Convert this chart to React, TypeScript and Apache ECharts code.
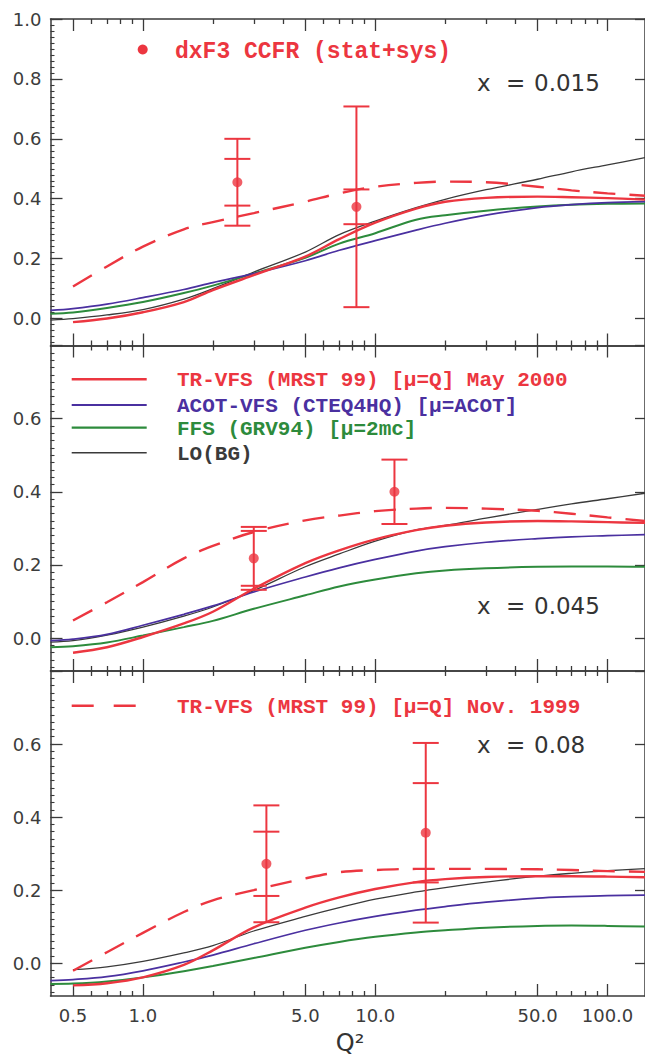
import React, { useEffect, useRef } from "react";
import * as echarts from "echarts";

// ---------------- data ----------------
const Q2 = [0.4, 0.5, 0.7, 1, 1.5, 2, 3, 5, 7, 10, 15, 20, 30, 50, 70, 100, 145];

// x = 0.015
const P1_TR2000 = [null, -0.012, 0.0, 0.021, 0.055, 0.095, 0.145, 0.207, 0.265, 0.32, 0.367, 0.39, 0.403, 0.407, 0.405, 0.402, 0.397];
const P1_ACOT = [0.027, 0.033, 0.048, 0.07, 0.097, 0.12, 0.15, 0.193, 0.228, 0.26, 0.295, 0.318, 0.345, 0.37, 0.38, 0.387, 0.39];
const P1_FFS = [0.016, 0.02, 0.035, 0.055, 0.085, 0.11, 0.15, 0.203, 0.25, 0.285, 0.33, 0.345, 0.36, 0.374, 0.38, 0.383, 0.384];
const P1_LO = [-0.005, 0.0, 0.012, 0.03, 0.065, 0.1, 0.155, 0.222, 0.28, 0.325, 0.37, 0.398, 0.43, 0.465, 0.49, 0.513, 0.537];
const P1_TR1999 = [null, 0.107, 0.174, 0.24, 0.298, 0.322, 0.352, 0.39, 0.418, 0.44, 0.453, 0.457, 0.455, 0.44, 0.428, 0.418, 0.41];

// x = 0.045
const P2_TR2000 = [null, -0.04, -0.025, 0.003, 0.04, 0.072, 0.135, 0.205, 0.24, 0.27, 0.295, 0.307, 0.316, 0.32, 0.319, 0.317, 0.315];
const P2_ACOT = [-0.007, -0.003, 0.01, 0.035, 0.065, 0.088, 0.126, 0.167, 0.192, 0.215, 0.238, 0.25, 0.262, 0.272, 0.277, 0.28, 0.283];
const P2_FFS = [-0.025, -0.022, -0.012, 0.007, 0.03, 0.047, 0.08, 0.117, 0.141, 0.16, 0.177, 0.185, 0.191, 0.195, 0.196, 0.196, 0.195];
const P2_LO = [-0.011, -0.007, 0.008, 0.03, 0.06, 0.085, 0.13, 0.195, 0.23, 0.265, 0.296, 0.308, 0.328, 0.352, 0.367, 0.381, 0.396];
const P2_TR1999 = [null, 0.048, 0.098, 0.153, 0.218, 0.252, 0.29, 0.322, 0.335, 0.347, 0.354, 0.356, 0.354, 0.348, 0.34, 0.33, 0.32];

// x = 0.08
const P3_TR2000 = [null, -0.061, -0.055, -0.039, -0.005, 0.035, 0.098, 0.152, 0.18, 0.203, 0.222, 0.23, 0.236, 0.238, 0.238, 0.237, 0.235];
const P3_ACOT = [-0.048, -0.045, -0.037, -0.021, 0.003, 0.022, 0.053, 0.09, 0.11, 0.128, 0.145, 0.155, 0.167, 0.178, 0.182, 0.185, 0.186];
const P3_FFS = [-0.057, -0.056, -0.05, -0.039, -0.022, -0.008, 0.014, 0.042, 0.058, 0.072, 0.084, 0.09, 0.097, 0.102, 0.103, 0.102, 0.1];
const P3_LO = [null, -0.018, -0.01, 0.005, 0.028, 0.048, 0.088, 0.128, 0.152, 0.175, 0.195, 0.207, 0.222, 0.238, 0.246, 0.253, 0.259];
const P3_TR1999 = [null, -0.021, 0.03, 0.083, 0.14, 0.172, 0.2, 0.232, 0.249, 0.255, 0.258, 0.258, 0.258, 0.257, 0.255, 0.252, 0.25];

// CCFR data points: Q2, value, stat error, total (stat+sys) error
const P1_PT_Q = [2.55, 8.3];
const P1_PT_V = [0.455, 0.373];
const P1_PT_STAT = [0.078, 0.058];
const P1_PT_TOT = [0.145, 0.335];

const P2_PT_Q = [3.0, 12.1];
const P2_PT_V = [0.218, 0.4];
const P2_PT_STAT = [0.075, 0];
const P2_PT_TOT = [0.086, 0.088];

const P3_PT_Q = [3.4, 16.5];
const P3_PT_V = [0.272, 0.357];
const P3_PT_STAT = [0.088, 0.136];
const P3_PT_TOT = [0.16, 0.246];

const X_VALUES = ["0.015", "0.045", "0.08"];

const MAJOR_Q = [0.5, 1, 5, 10, 50, 100];
const MINOR_Q = [0.6, 0.7, 0.8, 0.9, 2, 3, 4, 6, 7, 8, 9, 20, 30, 40, 60, 70, 80, 90];

const Y_MIN = [-0.09, -0.09, -0.09];
const Y_MAX = [1.0, 0.8, 0.8];
const Y_MAJOR = [
  [0, 0.2, 0.4, 0.6, 0.8, 1.0],
  [0, 0.2, 0.4, 0.6, 0.8],
  [0, 0.2, 0.4, 0.6, 0.8],
];
const Y_LABELS = [
  [0, 0.2, 0.4, 0.6, 0.8, 1.0],
  [0, 0.2, 0.4, 0.6],
  [0, 0.2, 0.4, 0.6],
];

const LEGEND_LABELS = [
  "TR-VFS (MRST 99) [μ=Q] May 2000",
  "ACOT-VFS (CTEQ4HQ) [μ=ACOT]",
  "FFS (GRV94) [μ=2mc]",
  "LO(BG)",
];
const LEGEND_1999 = "TR-VFS (MRST 99) [μ=Q] Nov. 1999";
const DATA_LABEL = "dxF3 CCFR (stat+sys)";

// ---------------- style ----------------
const RED = "#ec3640";
const BLUE = "#4a30a0";
const GREEN = "#2d8b3c";
const BLACK = "#3a3a3a";
const AXIS = "#3a3a3a";
const LABEL = "#3c3c3c";

const X_MIN = 0.4;
const X_MAX = 145;
const GRID_LEFT = 50.5;
const GRID_WIDTH = 597.5;
const PANEL_TOPS = [19, 345.5, 671];
const PANEL_HEIGHTS = [326.5, 325.5, 325];

const PANELS = [
  { tr2000: P1_TR2000, acot: P1_ACOT, ffs: P1_FFS, lo: P1_LO, tr1999: P1_TR1999, q: P1_PT_Q, v: P1_PT_V, st: P1_PT_STAT, tot: P1_PT_TOT },
  { tr2000: P2_TR2000, acot: P2_ACOT, ffs: P2_FFS, lo: P2_LO, tr1999: P2_TR1999, q: P2_PT_Q, v: P2_PT_V, st: P2_PT_STAT, tot: P2_PT_TOT },
  { tr2000: P3_TR2000, acot: P3_ACOT, ffs: P3_FFS, lo: P3_LO, tr1999: P3_TR1999, q: P3_PT_Q, v: P3_PT_V, st: P3_PT_STAT, tot: P3_PT_TOT },
];

const X_LABEL_Y = [83.3, 606, 745];

function pairs(vals: (number | null)[]) {
  const out: number[][] = [];
  vals.forEach((v, i) => {
    if (v !== null) out.push([Q2[i], v]);
  });
  return out;
}

function yMinorTicks(min: number, max: number) {
  const out: number[] = [];
  for (let k = Math.ceil(min / 0.02 - 1e-9); k * 0.02 <= max + 1e-9; k++) {
    out.push(Math.round(k * 2) / 100);
  }
  return out;
}

function buildOption() {
  const grids: any[] = [];
  const xAxes: any[] = [];
  const yAxes: any[] = [];
  const series: any[] = [];
  const lineStyleAxis = { color: AXIS, width: 1.5 };
  const tickStyle = { color: AXIS, width: 1.3 };

  PANELS.forEach((p, i) => {
    grids.push({ left: GRID_LEFT, top: PANEL_TOPS[i], width: GRID_WIDTH, height: PANEL_HEIGHTS[i], show: false });
    const baseX = {
      type: "log",
      logBase: 10,
      min: X_MIN,
      max: X_MAX,
      gridIndex: i,
      splitLine: { show: false },
      minorTick: { show: false },
      minorSplitLine: { show: false },
    };
    xAxes.push({
      ...baseX,
      position: "bottom",
      axisLine: { show: true, onZero: false, lineStyle: lineStyleAxis },
      axisTick: { show: true, inside: true, length: 12, customValues: MAJOR_Q, lineStyle: tickStyle },
      axisLabel: {
        show: i === 2,
        customValues: MAJOR_Q,
        formatter: (v: any) => Number(v).toFixed(1),
        fontFamily: "DejaVu Sans",
        fontSize: 18,
        color: LABEL,
        margin: 10,
      },
    });
    xAxes.push({
      ...baseX,
      position: "bottom",
      axisLine: { show: false, onZero: false },
      axisTick: { show: true, inside: true, length: 5, customValues: MINOR_Q, lineStyle: tickStyle },
      axisLabel: { show: false },
    });
    xAxes.push({
      ...baseX,
      position: "top",
      axisLine: { show: true, onZero: false, lineStyle: lineStyleAxis },
      axisTick: { show: true, inside: true, length: 12, customValues: MAJOR_Q, lineStyle: tickStyle },
      axisLabel: { show: false },
    });
    xAxes.push({
      ...baseX,
      position: "top",
      axisLine: { show: false, onZero: false },
      axisTick: { show: true, inside: true, length: 5, customValues: MINOR_Q, lineStyle: tickStyle },
      axisLabel: { show: false },
    });

    const baseY = { type: "value", min: Y_MIN[i], max: Y_MAX[i], gridIndex: i, splitLine: { show: false } };
    yAxes.push({
      ...baseY,
      position: "left",
      axisLine: { show: true, onZero: false, lineStyle: lineStyleAxis },
      axisTick: { show: true, inside: true, length: 12, customValues: Y_MAJOR[i], lineStyle: tickStyle },
      axisLabel: {
        show: true,
        customValues: Y_LABELS[i],
        formatter: (v: any) => Number(v).toFixed(1),
        fontFamily: "DejaVu Sans",
        fontSize: 18,
        color: LABEL,
        margin: 9,
      },
    });
    yAxes.push({
      ...baseY,
      position: "left",
      axisLine: { show: false, onZero: false },
      axisTick: { show: true, inside: true, length: 4, customValues: yMinorTicks(Y_MIN[i], Y_MAX[i]), lineStyle: { color: AXIS, width: 1.1 } },
      axisLabel: { show: false },
    });
    yAxes.push({
      ...baseY,
      position: "right",
      axisLine: { show: true, onZero: false, lineStyle: lineStyleAxis },
      axisTick: { show: true, inside: true, length: 10, customValues: Y_MAJOR[i], lineStyle: tickStyle },
      axisLabel: { show: false },
    });

    const xi = 4 * i;
    const yi = 3 * i;
    const line = (name: string, vals: (number | null)[], color: string, width: number, type: any) => ({
      type: "line",
      name,
      xAxisIndex: xi,
      yAxisIndex: yi,
      data: pairs(vals),
      smooth: 0.35,
      showSymbol: false,
      symbol: "none",
      silent: true,
      lineStyle: { color, width, type },
      z: 3,
    });
    series.push(line("LO(BG)", p.lo, BLACK, 1.3, "solid"));
    series.push(line("FFS", p.ffs, GREEN, 2, "solid"));
    series.push(line("ACOT-VFS", p.acot, BLUE, 1.7, "solid"));
    series.push(line("TR-VFS 2000", p.tr2000, RED, 2.4, "solid"));
    series.push(line("TR-VFS 1999", p.tr1999, RED, 2.4, [22, 14]));

    const pts = p.q.map((q, k) => [q, p.v[k], p.st[k], p.tot[k]]);
    series.push({
      type: "custom",
      name: "errors",
      xAxisIndex: xi,
      yAxisIndex: yi,
      data: pts,
      encode: { x: 0, y: 1 },
      silent: true,
      z: 5,
      renderItem: (params: any, api: any) => {
        const x = api.value(0);
        const v = api.value(1);
        const st = api.value(2);
        const tot = api.value(3);
        const top = api.coord([x, v + tot]);
        const bot = api.coord([x, v - tot]);
        const half = 13;
        const style = { stroke: RED, lineWidth: 2 };
        const children: any[] = [
          { type: "line", shape: { x1: top[0], y1: top[1], x2: bot[0], y2: bot[1] }, style },
          { type: "line", shape: { x1: top[0] - half, y1: top[1], x2: top[0] + half, y2: top[1] }, style },
          { type: "line", shape: { x1: bot[0] - half, y1: bot[1], x2: bot[0] + half, y2: bot[1] }, style },
        ];
        if (st > 0) {
          const s1 = api.coord([x, v + st]);
          const s2 = api.coord([x, v - st]);
          children.push({ type: "line", shape: { x1: s1[0] - half, y1: s1[1], x2: s1[0] + half, y2: s1[1] }, style });
          children.push({ type: "line", shape: { x1: s2[0] - half, y1: s2[1], x2: s2[0] + half, y2: s2[1] }, style });
        }
        return { type: "group", children };
      },
    });
    series.push({
      type: "scatter",
      name: "CCFR",
      xAxisIndex: xi,
      yAxisIndex: yi,
      data: pts.map((d) => [d[0], d[1]]),
      symbol: "circle",
      symbolSize: 10,
      itemStyle: { color: RED },
      silent: true,
      z: 6,
    });
  });

  const graphic: any[] = [];
  const legendFont = "bold 21px 'Liberation Mono', monospace";
  // panel 1 legend
  graphic.push({ type: "circle", shape: { cx: 142.7, cy: 49.5, r: 5 }, style: { fill: RED } });
  graphic.push({
    type: "text",
    x: 175,
    y: 51.5,
    style: { text: DATA_LABEL, font: "bold 23px 'Liberation Mono', monospace", fill: RED, textAlign: "left", textVerticalAlign: "middle", align: "left", verticalAlign: "middle" },
  });
  // panel 2 legend
  const legColors = [RED, BLUE, GREEN, BLACK];
  const legY = [379.3, 405, 427.7, 452.7];
  const legWidth = [2.4, 1.8, 2.2, 1.4];
  LEGEND_LABELS.forEach((lab, k) => {
    graphic.push({ type: "line", shape: { x1: 71.7, y1: legY[k], x2: 146.7, y2: legY[k] }, style: { stroke: legColors[k], lineWidth: legWidth[k] } });
    graphic.push({
      type: "text",
      x: 177,
      y: legY[k] + 1.5,
      style: { text: lab, font: legendFont, fill: legColors[k], textAlign: "left", textVerticalAlign: "middle", align: "left", verticalAlign: "middle" },
    });
  });
  // panel 3 legend
  graphic.push({ type: "line", shape: { x1: 71.7, y1: 705.7, x2: 146.7, y2: 705.7 }, style: { stroke: RED, lineWidth: 2.4, lineDash: [22, 20] } });
  graphic.push({
    type: "text",
    x: 177,
    y: 707,
    style: { text: LEGEND_1999, font: legendFont, fill: RED, textAlign: "left", textVerticalAlign: "middle", align: "left", verticalAlign: "middle" },
  });
  // x = ... labels
  X_VALUES.forEach((val, k) => {
    const y = X_LABEL_Y[k];
    const f = "23px 'DejaVu Sans', sans-serif";
    const common = { font: f, fill: "#333", textAlign: "left", textVerticalAlign: "middle", align: "left", verticalAlign: "middle" };
    graphic.push({ type: "text", x: 477, y, style: { ...common, text: "x" } });
    graphic.push({ type: "text", x: 506, y, style: { ...common, text: "=" } });
    graphic.push({ type: "text", x: 534, y, style: { ...common, text: val } });
  });
  // axis title
  graphic.push({
    type: "text",
    x: 350,
    y: 1043,
    style: { text: "Q²", font: "24px 'DejaVu Sans', sans-serif", fill: "#333", textAlign: "center", textVerticalAlign: "middle", align: "center", verticalAlign: "middle" },
  });

  return {
    animation: false,
    backgroundColor: "#ffffff",
    grid: grids,
    xAxis: xAxes,
    yAxis: yAxes,
    series,
    graphic,
  };
}

export default function App() {
  const ref = useRef<HTMLDivElement>(null);
  useEffect(() => {
    if (!ref.current) return;
    const chart = echarts.init(ref.current, null, { renderer: "svg" });
    chart.setOption(buildOption() as any);
    return () => chart.dispose();
  }, []);
  return <div ref={ref} style={{ position: "absolute", left: 0, top: 0, width: 645, height: 1060 }} />;
}
